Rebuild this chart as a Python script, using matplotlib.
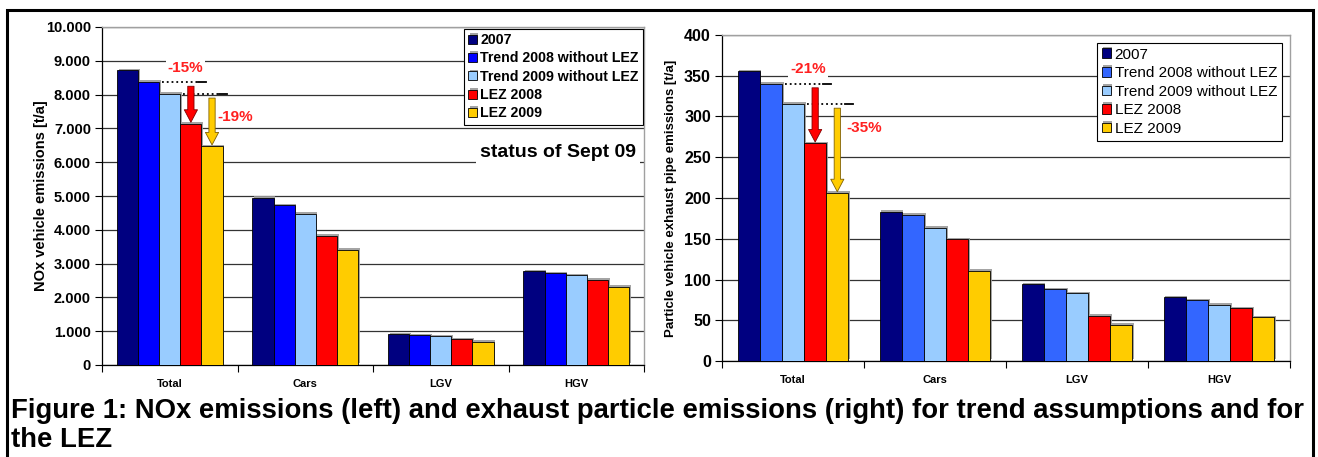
import matplotlib
matplotlib.use("Agg")
import matplotlib.pyplot as plt
import matplotlib.patheffects as pe
from matplotlib.patches import Rectangle
import numpy as np

plt.rcParams['font.family'] = ['Liberation Sans', 'DejaVu Sans']

categories = ["Total", "Cars", "LGV", "HGV"]
series = ["2007", "Trend 2008 without LEZ", "Trend 2009 without LEZ", "LEZ 2008", "LEZ 2009"]

nox_2007 = [8720, 4950, 907, 2771]
nox_trend2008 = [8370, 4724, 878, 2712]
nox_trend2009 = [8020, 4477, 848, 2653]
nox_lez2008 = [7140, 3826, 759, 2525]
nox_lez2009 = [6470, 3412, 680, 2318]

pm_2007 = [355.4, 183.4, 94.2, 78.3]
pm_trend2008 = [340.3, 179.0, 88.0, 74.6]
pm_trend2009 = [315.3, 163.5, 83.2, 69.3]
pm_lez2008 = [267.0, 149.2, 55.8, 64.8]
pm_lez2009 = [206.0, 110.5, 44.4, 53.4]

nox_yticks = [0, 1000, 2000, 3000, 4000, 5000, 6000, 7000, 8000, 9000, 10000]
nox_yticklabels = ["0", "1.000", "2.000", "3.000", "4.000", "5.000", "6.000",
                   "7.000", "8.000", "9.000", "10.000"]
pm_yticks = [0, 50, 100, 150, 200, 250, 300, 350, 400]

nox_labels = ["-15%", "-19%"]
pm_labels = ["-21%", "-35%"]

colors_left = ["#000080", "#0000FF", "#99CCFF", "#FF0000", "#FFCC00"]
colors_right = ["#000080", "#3366FF", "#99CCFF", "#FF0000", "#FFCC00"]

W, H = 1318, 457
fig = plt.figure(figsize=(W / 100, H / 100), dpi=100)


def fx(px):
    return px / W


def fy(py):
    return 1 - py / H


def draw_chart(ax, data, colors, yticks, yticklabels, ylim, ylabel, ylabel_size,
               legend_pos, legend_bold, legend_size, tick_size):
    n = len(data)
    bw = 0.156
    x = np.arange(len(categories))
    for i, vals in enumerate(data):
        off = (i - (n - 1) / 2) * bw
        bars = ax.bar(x + off, vals, width=bw, color=colors[i], edgecolor="black",
                      linewidth=0.6, zorder=3, label=series[i])
        for b in bars:
            b.set_path_effects([pe.SimplePatchShadow(offset=(1.2, 1.2), shadow_rgbFace="#9a9a9a", alpha=0.9),
                                pe.Normal()])
    ax.set_xlim(-0.5, len(categories) - 0.5)
    ax.set_ylim(*ylim)
    ax.set_yticks(yticks)
    ax.set_yticklabels(yticklabels, fontsize=tick_size, fontweight="bold")
    ax.yaxis.grid(True, color="#333333", linewidth=0.9, zorder=0)
    ax.set_axisbelow(True)
    ax.set_xticks(np.arange(-0.5, len(categories), 1.0))
    ax.set_xticklabels([])
    ax.set_xticks(x, minor=True)
    ax.set_xticklabels(categories, minor=True, fontsize=8, fontweight="bold")
    ax.tick_params(axis="x", which="minor", length=0, pad=10)
    ax.tick_params(axis="x", which="major", length=5, direction="out", width=0.8)
    ax.tick_params(axis="y", length=5, direction="out", width=0.8, pad=3)
    for s in ["left", "bottom"]:
        ax.spines[s].set_color("black")
        ax.spines[s].set_linewidth(0.9)
    for s in ["top", "right"]:
        ax.spines[s].set_color("#a0a0a0")
        ax.spines[s].set_linewidth(1.0)
    ax.set_ylabel(ylabel, fontsize=ylabel_size, fontweight="bold")
    leg = ax.legend(loc="upper left", bbox_to_anchor=legend_pos,
                    bbox_transform=fig.transFigure, frameon=True, fancybox=False,
                    edgecolor="black", framealpha=1, borderpad=0.3,
                    labelspacing=0.3, handlelength=0.6, handleheight=0.6,
                    handletextpad=0.25, borderaxespad=0,
                    prop={"size": legend_size, "weight": "bold" if legend_bold else "normal"})
    leg.get_frame().set_linewidth(0.8)
    leg.set_zorder(10)
    return x, bw


def annotate_drop(ax, xc, bw, trend, lez, color, ecolor):
    xa = xc
    ax.plot([xa - 1.35 * bw, xa + 0.35 * bw], [trend, trend], color="black",
            linestyle=":", linewidth=1.3, zorder=6)
    ax.plot([xa + 0.35 * bw, xa + 0.7 * bw], [trend, trend], color="black",
            linestyle="-", linewidth=1.3, zorder=6)
    ax.annotate("", xy=(xa, lez), xytext=(xa, trend),
                arrowprops=dict(arrowstyle="simple,head_width=0.95,head_length=0.9,tail_width=0.45",
                                fc=color, ec=ecolor, lw=0.6, shrinkA=3, shrinkB=1),
                zorder=7)


def pct(ax, x, y, s, white):
    kw = {}
    if white:
        kw["bbox"] = dict(boxstyle="square,pad=0.12", fc="white", ec="none")
    ax.text(x, y, s, color="#FF2020", fontsize=11, fontweight="bold",
            ha="center", va="center", zorder=8, **kw)


# Left chart
axL = fig.add_axes([fx(102), fy(365), fx(644) - fx(102), fy(27) - fy(365)])
nox = [nox_2007, nox_trend2008, nox_trend2009, nox_lez2008, nox_lez2009]
xL, bw = draw_chart(axL, nox, colors_left, nox_yticks, nox_yticklabels, (0, 10000),
                    "NOx vehicle emissions [t/a]", 10.5, (fx(464), fy(29)), True, 10.2, 10.5)
axL.yaxis.set_label_coords(-0.10, 0.5)
annotate_drop(axL, xL[0] + 1 * bw, bw, nox_trend2008[0], nox_lez2008[0], "#FF0000", "#800000")
annotate_drop(axL, xL[0] + 2 * bw, bw, nox_trend2009[0], nox_lez2009[0], "#FFCC00", "#806000")
pct(axL, 0.115, 8800, nox_labels[0], True)
pct(axL, 0.48, 7330, nox_labels[1], False)
axL.text(0.985, 0.63, "status of Sept 09", transform=axL.transAxes, ha="right",
         va="center", fontsize=14, fontweight="bold", zorder=8,
         bbox=dict(boxstyle="square,pad=0.2", fc="white", ec="none"))

# Right chart
axR = fig.add_axes([fx(722), fy(361), fx(1290) - fx(722), fy(35) - fy(361)])
pm = [pm_2007, pm_trend2008, pm_trend2009, pm_lez2008, pm_lez2009]
xR, bw = draw_chart(axR, pm, colors_right, pm_yticks, [str(v) for v in pm_yticks], (0, 400),
                    "Particle vehicle exhaust pipe emissions [t/a]", 9.5, (fx(1097), fy(43)),
                    False, 11, 11.5)
axR.yaxis.set_label_coords(-0.08, 0.5)
annotate_drop(axR, xR[0] + 1 * bw, bw, pm_trend2008[0], pm_lez2008[0], "#FF0000", "#800000")
annotate_drop(axR, xR[0] + 2 * bw, bw, pm_trend2009[0], pm_lez2009[0], "#FFCC00", "#806000")
pct(axR, 0.106, 358, pm_labels[0], True)
pct(axR, 0.50, 286, pm_labels[1], False)

# Outer frame
fig.add_artist(Rectangle((fx(7), fy(470)), fx(1313) - fx(7), fy(10) - fy(470),
                         transform=fig.transFigure, fill=False, edgecolor="black",
                         linewidth=2.2, clip_on=False))

fig.text(fx(11), fy(411), "Figure 1: NOx emissions (left) and exhaust particle emissions (right) for trend assumptions and for",
         fontsize=19.8, fontweight="bold", ha="left", va="center")
fig.text(fx(11), fy(440), "the LEZ", fontsize=19.8, fontweight="bold", ha="left", va="center")

fig.savefig("out.png", dpi=100)
